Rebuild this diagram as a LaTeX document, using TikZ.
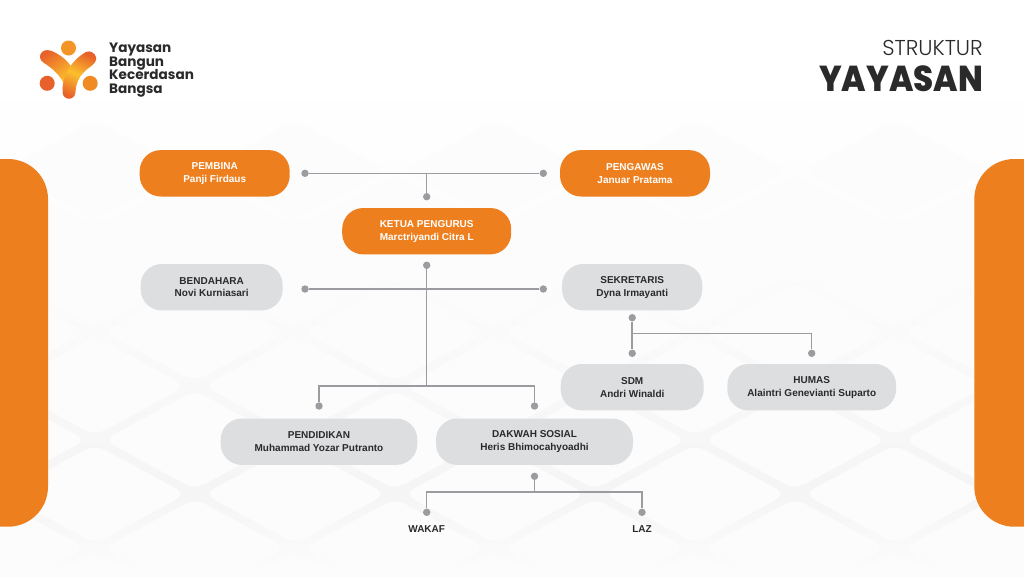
\documentclass[tikz,border=0pt]{standalone}
\usepackage{fontspec}
\setmainfont{Liberation Sans}
\newfontfamily\logofont{Poppins}
\newfontfamily\titlefont[UprightFont=* Light]{Poppins}
\newfontfamily\heavyfont[UprightFont=* ExtraBold,FakeStretch=0.9]{Poppins}
\definecolor{brandorange}{HTML}{EE7F1E}
\definecolor{pillgray}{HTML}{DCDEE0}
\definecolor{linkgray}{HTML}{9B9C9F}
\definecolor{inkdark}{HTML}{2A2A2A}
\definecolor{logored}{HTML}{E8602A}
\definecolor{logoamber}{HTML}{F08A24}
\definecolor{logoyellow}{HTML}{FBC02D}
\tikzset{
  pill/.style={rounded corners=21pt,inner sep=0pt,align=center,minimum height=46.4pt,
    font=\fontsize{10}{12.7}\selectfont\bfseries,execute at begin node=\rule{0pt}{11.2pt}},
  orangepill/.style={pill,fill=brandorange,text=white},
  graypill/.style={pill,fill=pillgray,text=inkdark},
  pin/.style={circle,fill=linkgray,inner sep=0pt,minimum size=7.4pt},
  link/.style={draw=linkgray,line width=1.5pt},
  leaflabel/.style={font=\fontsize{10}{12}\selectfont\bfseries,text=inkdark,inner sep=0pt},
  logoline/.style={font=\logofont\fontsize{13.6}{15}\selectfont\bfseries,text=inkdark,anchor=base west,inner sep=0pt},
  tile/.style={fill=black!1,rounded corners=11pt}
}
\begin{document}
\begin{tikzpicture}[x=1pt,y=-1pt]
\useasboundingbox (0,0) rectangle (1024,576);
% background
\fill[white] (0,0) rectangle (1024,576);
\shade[top color=white,bottom color=black!1.5] (0,70) rectangle (1024,300);
\shade[top color=black!1.5,bottom color=black!4] (0,300) rectangle (1024,494);
\shade[top color=black!4,bottom color=black!1] (0,494) rectangle (1024,576);
\foreach \i in {-1,...,10}{
  \foreach \j in {-5,...,3}{
    \pgfmathtruncatemacro{\parity}{mod(\i+\j+20,2)}
    \ifnum\parity=1
      \pgfmathsetmacro{\cx}{95+100*\i}
      \pgfmathsetmacro{\cy}{440+54*\j}
      \fill[tile] (\cx-91,\cy) -- (\cx,\cy-49.5) -- (\cx+91,\cy) -- (\cx,\cy+49.5) -- cycle;
    \fi
  }
}
\foreach \r in {5,10,...,130}{
  \fill[black,opacity=.0016] (610,340) ellipse ({\r*1.1} and {\r*.75});
}
% side panels
\fill[brandorange] (0,159) -- (8,159) arc[start angle=-90,end angle=0,radius=40] -- (48,486.7) arc[start angle=0,end angle=90,radius=40] -- (0,526.7) -- cycle;
\fill[brandorange] (1024,159) -- (1014.3,159) arc[start angle=270,end angle=180,radius=40] -- (974.3,486.7) arc[start angle=180,end angle=90,radius=40] -- (1024,526.7) -- cycle;
% logo
\shade[left color=logored,right color=logoyellow,shading angle=35]
  (42,52) .. controls (45,49) and (50,50) .. (54,52) .. controls (62,56) and (68,61) .. (72,68)
  -- (64,84) .. controls (60,75) and (52,68) .. (44,63) .. controls (39,60) and (39,55) .. (42,52) -- cycle;
\shade[top color=logored,bottom color=logored,middle color=logoyellow,shading angle=-25]
  (86,52) .. controls (90,50) and (95,53) .. (96,57) .. controls (97,61) and (94,64) .. (90,67)
  .. controls (80,74) and (76,82) .. (75.5,92) .. controls (75,101) and (63,101) .. (62.5,92)
  .. controls (62,75) and (72,60) .. (86,52) -- cycle;
\fill[logoamber!80!logoyellow] (68.5,48) circle (7.5);
\fill[logored] (47.2,83.3) circle (7.5);
\fill[logoamber] (90.2,83.3) circle (7.5);
\node[logoline] (logoa) at (109,52.7) {Yayasan};
\node[logoline] (logob) at (109,66.2) {Bangun};
\node[logoline] (logoc) at (109,79.8) {Kecerdasan};
\node[logoline] (logod) at (109,93.3) {Bangsa};
% title
\node[anchor=base east,inner sep=0pt,text=inkdark,font=\titlefont\fontsize{21.5}{23}\selectfont] (struktur) at (983,55.7) {STRUKTUR};
\node[anchor=base east,inner sep=0pt,text=inkdark,font=\heavyfont\fontsize{36}{38}\selectfont] (yayasan) at (983,91) {YAYASAN};
% boxes
\node[orangepill,minimum width=150pt] (pembina) at (214.7,173.3) {PEMBINA\\Panji Firdaus};
\node[orangepill,minimum width=150pt] (pengawas) at (635,173.3) {PENGAWAS\\Januar Pratama};
\node[orangepill,minimum width=169pt] (ketua) at (426.7,231.2) {KETUA PENGURUS\\Marctriyandi Citra L};
\node[graypill,minimum width=142pt] (bendahara) at (211.7,287.2) {BENDAHARA\\Novi Kurniasari};
\node[graypill,minimum width=140.3pt] (sekretaris) at (632.2,287.2) {SEKRETARIS\\Dyna Irmayanti};
\node[graypill,minimum width=143pt] (sdm) at (632.2,387.2) {SDM\\Andri Winaldi};
\node[graypill,minimum width=168.7pt] (humas) at (811.7,387.2) {HUMAS\\Alaintri Genevianti Suparto};
\node[graypill,minimum width=196.6pt] (pendidikan) at (319,441.7) {PENDIDIKAN\\Muhammad Yozar Putranto};
\node[graypill,minimum width=197pt] (dakwah) at (534.5,441.7) {DAKWAH SOSIAL\\Heris Bhimocahyoadhi};
\node[leaflabel] (wakaf) at (426.7,528.7) {WAKAF};
\node[leaflabel] (laz) at (642,528.7) {LAZ};
% pins
\node[pin] (p1) at (305,173.3) {};
\node[pin] (p2) at (543.3,173.3) {};
\node[pin] (p3) at (426.7,196.7) {};
\coordinate (j1) at (426.7,173.3);
\node[pin] (p4) at (426.7,265.3) {};
\node[pin] (p5) at (305,289) {};
\node[pin] (p6) at (543.3,289) {};
\coordinate (j2) at (426.7,386);
\coordinate (j2l) at (319,386);
\coordinate (j2r) at (534.5,386);
\node[pin] (p7) at (319,406) {};
\node[pin] (p8) at (534.5,406) {};
\node[pin] (p9) at (632.2,317.7) {};
\node[pin] (p10) at (632.2,353.3) {};
\node[pin] (p11) at (811.7,353.3) {};
\coordinate (j3) at (632.2,333.7);
\coordinate (j3r) at (811.7,333.7);
\node[pin] (p12) at (534.5,476.3) {};
\coordinate (j4) at (534.5,492);
\coordinate (j4l) at (426.7,492);
\coordinate (j4r) at (642,492);
\node[pin] (p13) at (426.7,512.3) {};
\node[pin] (p14) at (642,512.3) {};
% links
\draw[link] (p1) -- (p2);
\draw[link] (j1) -- (p3);
\draw[link] (p5) -- (p6);
\draw[link] (p4) -- (j2);
\draw[link] (p7) -- (j2l) -- (j2r) -- (p8);
\draw[link] (p9) -- (p10);
\draw[link] (j3) -- (j3r) -- (p11);
\draw[link] (p12) -- (j4);
\draw[link] (p13) -- (j4l) -- (j4r) -- (p14);
\end{tikzpicture}
\end{document}
